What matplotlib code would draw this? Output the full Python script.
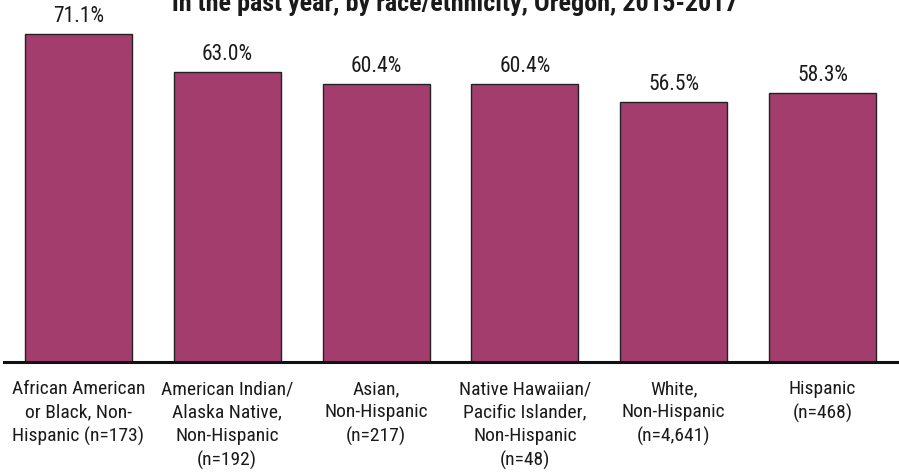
import matplotlib
matplotlib.use("Agg")
import matplotlib.pyplot as plt

categories = [
    "African American\nor Black, Non-\nHispanic (n=173)",
    "American Indian/\nAlaska Native,\nNon-Hispanic\n(n=192)",
    "Asian,\nNon-Hispanic\n(n=217)",
    "Native Hawaiian/\nPacific Islander,\nNon-Hispanic\n(n=48)",
    "White,\nNon-Hispanic\n(n=4,641)",
    "Hispanic\n(n=468)",
]
values = [71.1, 63.0, 60.4, 60.4, 56.5, 58.3]
title_line = "in the past year, by race/ethnicity, Oregon, 2015-2017"

FONT = ["Roboto Condensed", "Archivo Narrow", "PT Sans Narrow",
        "Sofia Sans Condensed", "DejaVu Sans"]
plt.rcParams["font.family"] = FONT

W, H = 899, 472
fig = plt.figure(figsize=(W / 100, H / 100), dpi=100)

base_px = 362           # baseline position from top
ymax = 75.0
px_per_unit = 4.61
ax_h = ymax * px_per_unit
left_px, right_px = 4, 897
ax = fig.add_axes([left_px / W, (H - base_px) / H,
                   (right_px - left_px) / W, ax_h / H])

x = list(range(len(values)))
ax.bar(x, values, width=0.72, color="#A33D6E", edgecolor="#222222",
       linewidth=1.0, zorder=2)

for xi, v in zip(x, values):
    ax.annotate(f"{v:.1f}%", (xi, v), xytext=(0, 5), textcoords="offset points",
                ha="center", va="bottom", fontsize=15.5, color="#1a1a1a")

ax.set_xlim(-0.5, 5.5)
ax.set_ylim(0, ymax)
for s in ["top", "right", "left"]:
    ax.spines[s].set_visible(False)
ax.spines["bottom"].set_linewidth(2.2)
ax.spines["bottom"].set_color("#111111")
ax.set_yticks([])
ax.set_xticks(x)
ax.set_xticklabels(categories, fontsize=14, color="#1a1a1a", linespacing=1.38)
ax.tick_params(axis="x", length=0, pad=13)
ax.patch.set_visible(False)

fig.text(455 / W, 1 - 11 / H, title_line, ha="center", va="baseline",
         fontsize=18.8, fontweight="bold", color="#1a1a1a")

fig.savefig("out.png", dpi=100)
